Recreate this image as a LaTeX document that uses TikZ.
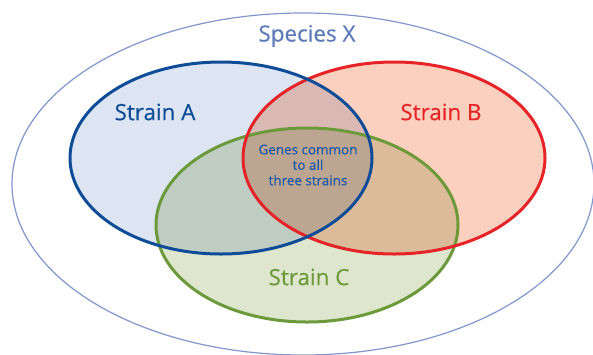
\documentclass[tikz,border=0pt]{standalone}
\usepackage{fontspec}
\setmainfont{Open Sans}[FakeBold=0.35]
\usetikzlibrary{positioning}

\definecolor{speciesline}{RGB}{128,150,205}
\definecolor{speciestext}{RGB}{92,122,186}
\definecolor{strainAline}{RGB}{14,76,152}
\definecolor{strainAfill}{RGB}{221,228,242}
\definecolor{strainBline}{RGB}{230,36,40}
\definecolor{strainBfill}{RGB}{252,208,190}
\definecolor{strainCline}{RGB}{108,154,58}
\definecolor{strainCfill}{RGB}{222,230,206}
\definecolor{commontext}{RGB}{28,88,168}

\begin{document}
\begin{tikzpicture}[x=1bp, y=-1bp,
    % Styles
    outerline/.style={draw=speciesline, line width=1.2bp},
    strainline/.style={line width=3bp},
    strainlabel/.style={font=\fontsize{22.5}{26}\selectfont},
    commonlabel/.style={font=\fontsize{13.5}{15.5}\selectfont, align=center, text=commontext}
]
    \useasboundingbox (0,0) rectangle (593,354);

    % --- Species X ---
    \draw[outerline] (303,184) ellipse [x radius=291bp, y radius=171bp];
    \node[strainlabel, text=speciestext] (species) at (307,36) {Species X};

    % --- Fills, blended where the strains overlap ---
    \begin{scope}[blend group=multiply]
        \fill[strainAfill] (221,158) ellipse [x radius=151bp, y radius=96bp];
        \fill[strainBfill] (394,158) ellipse [x radius=151bp, y radius=96bp];
        \fill[strainCfill] (307,225) ellipse [x radius=151bp, y radius=97bp];
    \end{scope}

    % --- Outlines ---
    \draw[strainline, draw=strainCline] (307,225) ellipse [x radius=151bp, y radius=97bp];
    \draw[strainline, draw=strainBline] (394,158) ellipse [x radius=151bp, y radius=96bp];
    \draw[strainline, draw=strainAline] (221,158) ellipse [x radius=151bp, y radius=96bp];

    % --- Labels ---
    \node[strainlabel, text=strainAline] (strainA) at (155,112) {Strain A};
    \node[strainlabel, text=strainBline] (strainB) at (441,112) {Strain B};
    \node[strainlabel, text=strainCline] (strainC) at (309,277) {Strain C};
    \node[commonlabel] (common) at (308,165) {Genes common\\to all\\three strains};

\end{tikzpicture}
\end{document}
